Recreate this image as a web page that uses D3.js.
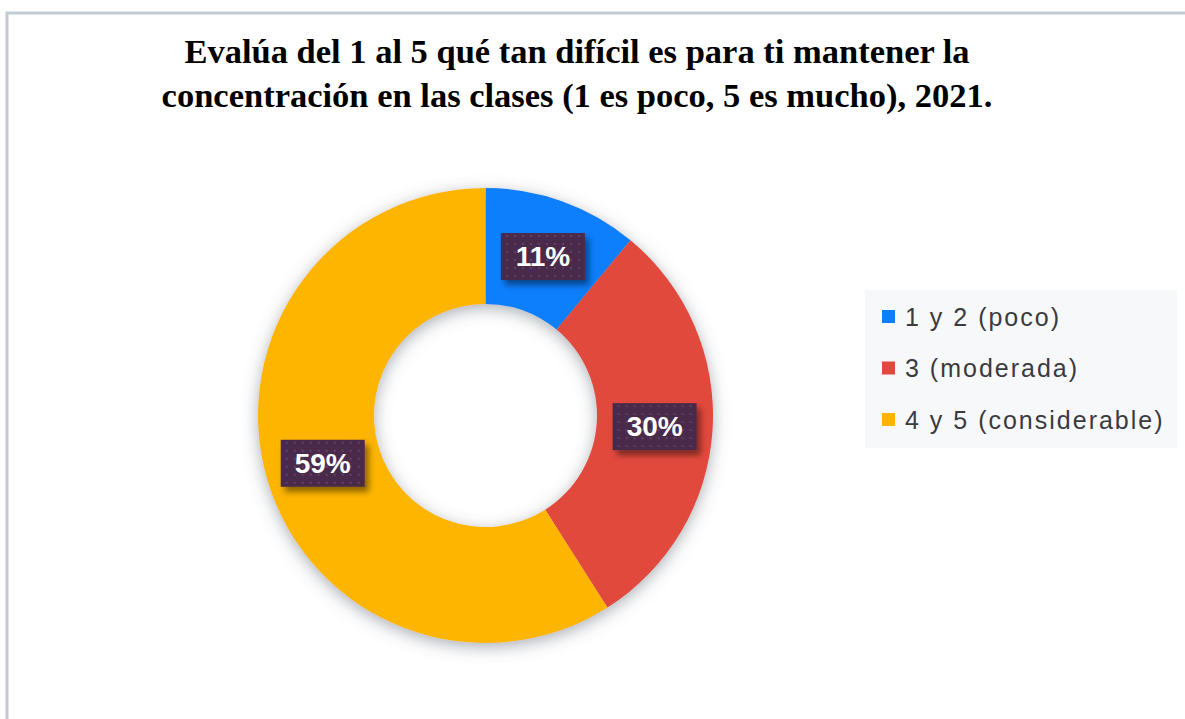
<!DOCTYPE html>
<html><head><meta charset="utf-8">
<script src="https://cdn.jsdelivr.net/npm/d3@7"></script>
<style>html,body{margin:0;padding:0;background:#fff;}svg{display:block;}</style>
</head><body>
<script>
const categories = ["1 y 2 (poco)", "3 (moderada)", "4 y 5 (considerable)"];
const values = [11, 30, 59];
const colors = ["#0a7efc", "#e2493d", "#fdb501"];
const titleLines = ["Evalúa del 1 al 5 qué tan difícil es para ti mantener la",
                    "concentración en las clases (1 es poco, 5 es mucho), 2021."];

const W = 1185, H = 719;
const svg = d3.select("body").append("svg").attr("width", W).attr("height", H);
const defs = svg.append("defs");

const sh = defs.append("filter").attr("id","dshadow").attr("x","-20%").attr("y","-20%").attr("width","140%").attr("height","140%");
sh.append("feDropShadow").attr("dx",0).attr("dy",4).attr("stdDeviation",8).attr("flood-color","#56616c").attr("flood-opacity",0.5);
const bs = defs.append("filter").attr("id","bshadow").attr("x","-30%").attr("y","-30%").attr("width","160%").attr("height","160%");
bs.append("feDropShadow").attr("dx",4).attr("dy",5).attr("stdDeviation",3).attr("flood-color","#000").attr("flood-opacity",0.45);

const pat = defs.append("pattern").attr("id","dots").attr("width",8).attr("height",8).attr("patternUnits","userSpaceOnUse");
pat.append("rect").attr("width",8).attr("height",8).attr("fill","#4a2a4b");
pat.append("circle").attr("cx",4).attr("cy",4).attr("r",0.9).attr("fill","#6a4d6b");

// frame
svg.append("line").attr("x1",6).attr("x2",W).attr("y1",13).attr("y2",13).attr("stroke","#c3cad1").attr("stroke-width",3);
svg.append("line").attr("x1",7).attr("x2",7).attr("y1",12).attr("y2",H).attr("stroke","#c3cad1").attr("stroke-width",3);

// title
const title = svg.append("text").attr("text-anchor","middle")
  .attr("font-family","'Liberation Serif', 'DejaVu Serif', serif").attr("font-weight","bold")
  .attr("font-size",34.5).attr("fill","#000");
titleLines.forEach((t,i)=>{
  title.append("tspan").attr("x",577).attr("y", 63 + i*44).text(t);
});

// donut
const cx = 485.5, cy = 415.5, rOuter = 227.5, rInner = 111.5;
const pie = d3.pie().sort(null).value(d=>d);
const arcs = pie(values);
const arc = d3.arc().innerRadius(rInner).outerRadius(rOuter);
const g = svg.append("g").attr("transform",`translate(${cx},${cy})`);
g.append("g").attr("filter","url(#dshadow)").selectAll("path").data(arcs).join("path")
  .attr("d",arc).attr("fill",(d,i)=>colors[i]);

// labels
const lab = g.selectAll("g.lab").data(arcs).join("g").attr("class","lab")
  .attr("transform",d=>`translate(${arc.centroid(d)})`);
lab.append("rect").attr("x",-42).attr("y",-23).attr("width",84).attr("height",47)
  .attr("fill","url(#dots)").attr("filter","url(#bshadow)");
lab.append("text").attr("text-anchor","middle").attr("dy","0.36em")
  .attr("font-family","'Liberation Sans', Arial, sans-serif").attr("font-weight","bold")
  .attr("font-size",28).attr("fill","#fff")
  .text(d=>d.data + "%");

// legend
const lg = svg.append("g");
lg.append("rect").attr("x",865).attr("y",290).attr("width",312).attr("height",158).attr("fill","#f6f8fa");
const items = lg.selectAll("g.it").data(categories).join("g").attr("class","it")
  .attr("transform",(d,i)=>`translate(882,${317 + i*51.5})`);
items.append("rect").attr("x",0).attr("y",-7).attr("width",13).attr("height",13).attr("fill",(d,i)=>colors[i]);
items.append("text").attr("x",23).attr("dy","0.35em")
  .attr("font-family","'Liberation Sans', Arial, sans-serif").attr("font-size",25)
  .attr("letter-spacing",2).attr("fill","#3b3a3f").text(d=>d);
</script>
</body></html>
